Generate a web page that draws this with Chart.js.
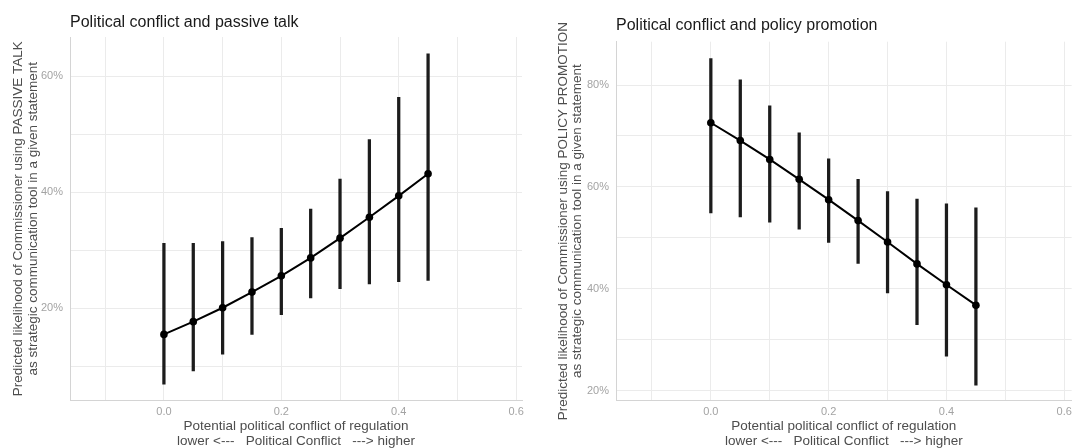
<!DOCTYPE html>
<html>
<head>
<meta charset="utf-8">
<script src="https://cdn.jsdelivr.net/npm/chart.js@4.4.1/dist/chart.umd.min.js"></script>
<style>
  body { margin: 0; background: #fff; }
  canvas { position: absolute; top: 0; }
  #passive { left: 0; }
  #policy { left: 537px; }
</style>
</head>
<body>
<canvas id="passive" width="537" height="448"></canvas>
<canvas id="policy" width="540" height="448"></canvas>
<script>
// potential political conflict of regulation
const conflict = [0, 0.05, 0.1, 0.15, 0.2, 0.25, 0.3, 0.35, 0.4, 0.45];

// passive talk, predicted % with lower/upper bounds
const passiveFit = [15.5, 17.7, 20.1, 22.8, 25.6, 28.7, 32.1, 35.7, 39.4, 43.2];
const passiveLow = [6.9, 9.2, 12.1, 15.5, 18.9, 21.8, 23.4, 24.2, 24.6, 24.8];
const passiveHigh = [31.2, 31.2, 31.5, 32.2, 33.8, 37.1, 42.3, 49.1, 56.4, 63.9];

// policy promotion
const policyFit = [72.6, 69.1, 65.4, 61.5, 57.5, 53.4, 49.2, 44.9, 40.8, 36.8];
const policyLow = [54.9, 54.1, 53.1, 51.7, 49.1, 45.0, 39.2, 33.0, 26.8, 21.1];
const policyHigh = [85.2, 81.0, 75.9, 70.6, 65.5, 61.5, 59.1, 57.6, 56.7, 55.9];

const xTitle = ["Potential political conflict of regulation", "lower <---   Political Conflict   ---> higher"];
const passiveYTitle = ["Predicted likelihood of Commissioner using PASSIVE TALK", "as strategic communication tool in a given statement"];
const policyYTitle = ["Predicted likelihood of Commissioner using POLICY PROMOTION", "as strategic communication tool in a given statement"];

const FONT = "'Liberation Sans', Arial, sans-serif";
const gridColor = "#ebebeb";
const axisColor = "#d4d4d4";

function makePanel(id, cfg) {
  const points = conflict.map((x, i) => ({ x: x, y: cfg.fit[i] }));
  const bars = conflict.map((x, i) => ({ x: x, y: [cfg.low[i], cfg.high[i]] }));

  return new Chart(document.getElementById(id), {
    type: "bar",
    data: {
      datasets: [
        {
          type: "line",
          data: points,
          borderColor: "#000",
          borderWidth: 2,
          pointRadius: 3.8,
          pointBackgroundColor: "#000",
          pointBorderWidth: 0
        },
        {
          type: "bar",
          data: bars,
          backgroundColor: "#1c1c1c",
          barThickness: 2.6
        }
      ]
    },
    options: {
      responsive: false,
      animation: false,
      devicePixelRatio: 1,
      layout: { padding: cfg.padding },
      plugins: {
        legend: { display: false },
        tooltip: { enabled: false },
        title: {
          display: true,
          text: cfg.title,
          align: "start",
          fullSize: false,
          color: "#1a1a1a",
          font: { family: FONT, size: 16, weight: "normal", lineHeight: 1.2 },
          padding: cfg.titlePad
        }
      },
      scales: {
        x: {
          type: "linear",
          min: cfg.xMin,
          max: cfg.xMax,
          offset: false,
          grid: { color: gridColor, drawTicks: false, offset: false },
          border: { display: true, color: axisColor, width: 1 },
          ticks: {
            stepSize: 0.1,
            includeBounds: false,
            padding: 5,
            color: "#a3a3a3",
            font: { family: FONT, size: 11 },
            callback: (v) => (Math.round(v * 10) % 2 === 0 ? v.toFixed(1) : "")
          },
          title: {
            display: true,
            text: xTitle,
            color: "#4d4d4d",
            font: { family: FONT, size: 13.5, lineHeight: 1.05 },
            padding: { top: 0, bottom: 0 }
          },
          afterFit: (scale) => { scale.height = 47.5; }
        },
        y: {
          type: "linear",
          min: cfg.yMin,
          max: cfg.yMax,
          grid: { color: gridColor, drawTicks: false },
          border: { display: true, color: axisColor, width: 1 },
          ticks: {
            stepSize: 10,
            includeBounds: false,
            padding: 7,
            color: "#a3a3a3",
            font: { family: FONT, size: 11 },
            callback: (v) => (Math.round(v) % 20 === 0 ? Math.round(v) + "%" : "")
          },
          title: {
            display: true,
            text: cfg.yTitle,
            color: "#4d4d4d",
            font: { family: FONT, size: 13.5, lineHeight: 1.1 },
            padding: { top: cfg.yTitlePad, bottom: 0 }
          },
          afterFit: (scale) => { scale.width = cfg.yWidth; }
        }
      }
    }
  });
}

makePanel("passive", {
  title: "Political conflict and passive talk",
  yTitle: passiveYTitle,
  fit: passiveFit, low: passiveLow, high: passiveHigh,
  xMin: -0.16, xMax: 0.61,
  yMin: 4.1, yMax: 66.8,
  yWidth: 66,
  yTitlePad: 7,
  padding: { left: 4, right: 15, top: 0, bottom: 0 },
  titlePad: { top: 13, bottom: 4.8 }
});

makePanel("policy", {
  title: "Political conflict and policy promotion",
  yTitle: policyYTitle,
  fit: policyFit, low: policyLow, high: policyHigh,
  xMin: -0.161, xMax: 0.6125,
  yMin: 18.1, yMax: 88.5,
  yWidth: 65,
  yTitlePad: 4.5,
  padding: { left: 14, right: 0, top: 0, bottom: 0 },
  titlePad: { top: 16.4, bottom: 6.1 }
});
</script>
</body>
</html>
